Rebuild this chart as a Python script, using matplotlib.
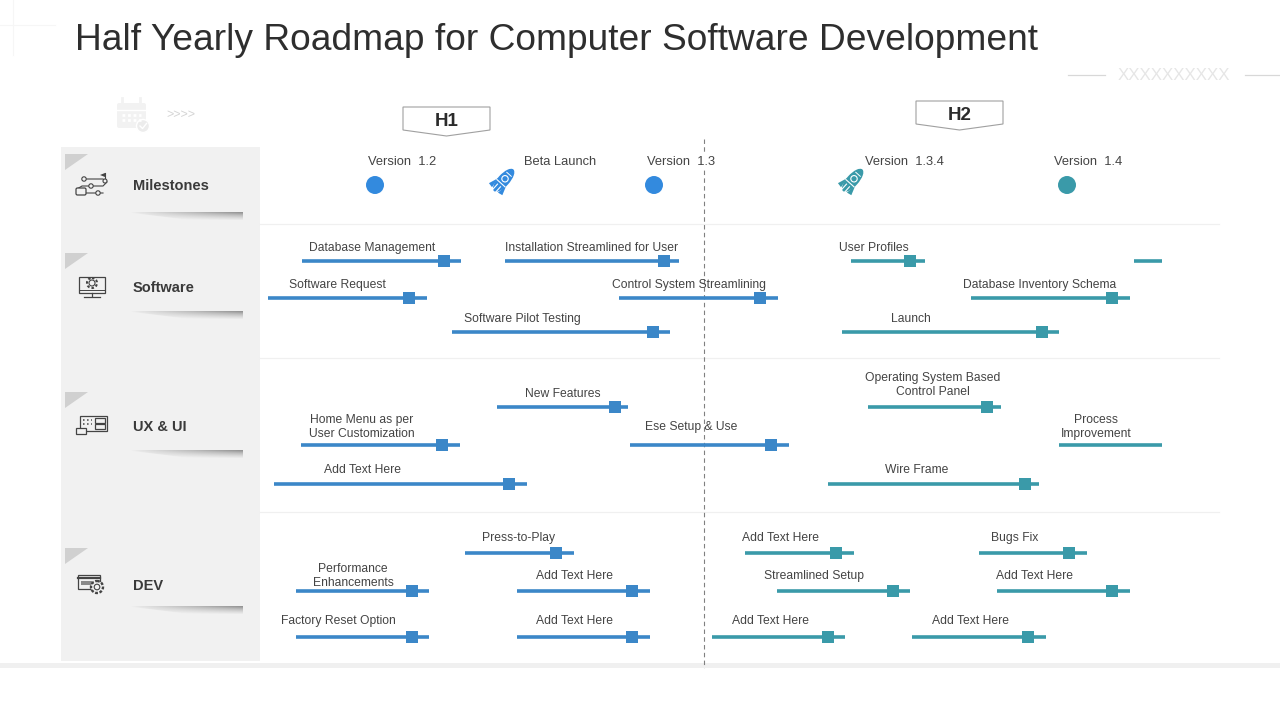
#!/usr/bin/env python3
# coding: utf-8
import numpy as np
import matplotlib as mpl
mpl.use('agg')
import matplotlib.pyplot as plt
from matplotlib.patches import Polygon, Rectangle, Circle, Ellipse, FancyBboxPatch
from matplotlib.transforms import Affine2D

plt.rcParams['font.family'] = ['Liberation Sans', 'DejaVu Sans']

BLUE = '#3b87c8'
BLUE_DOT = '#338ade'
TEAL = '#3a9aa9'
TEXT = '#444444'

title = 'Half Yearly Roadmap for Computer Software Development'
rows = ['Milestones', 'Software', 'UX & UI', 'DEV']

# milestones, x is the position on the timeline
ms_names = ['Version  1.2', 'Beta Launch', 'Version  1.3', 'Version  1.3.4', 'Version  1.4']
ms_x = [375, 503, 654, 852, 1067]
ms_text_x = [402, 560, 681, 904, 1088]
ms_kind = ['dot', 'rocket', 'dot', 'rocket', 'dot']
ms_color = [BLUE_DOT, BLUE_DOT, BLUE_DOT, TEAL, TEAL]

# H1 tasks
h1_names = ['Database Management', 'Installation Streamlined for User', 'Software Request',
            'Control System Streamlining', 'Software Pilot Testing', 'New Features',
            'Home Menu as per\nUser Customization', 'Ese Setup & Use', 'Add Text Here',
            'Press-to-Play', 'Performance\nEnhancements', 'Add Text Here',
            'Factory Reset Option', 'Add Text Here']
h1_start = [302, 505, 268, 619, 452, 497, 301, 630, 274, 465, 296, 517, 296, 517]
h1_end = [461, 679, 427, 778, 670, 628, 460, 789, 527, 574, 429, 650, 429, 650]
h1_mark = [444, 664, 409, 760, 653, 615, 442, 771, 509, 556, 412, 632, 412, 632]
h1_lane = [261, 261, 298, 298, 332, 407, 445, 445, 484, 553, 591, 591, 637, 637]
h1_text_x = [372, 592, 337, 689, 522, 563, 362, 691, 362, 519, 353, 575, 338, 575]
h1_text_y = [247, 247, 284, 284, 318, 393, 426, 426, 469, 537, 575, 575, 620, 620]

# H2 tasks, None = no marker on the bar
h2_names = ['User Profiles', '', 'Database Inventory Schema', 'Launch',
            'Operating System Based\nControl Panel', 'Process\nImprovement', 'Wire Frame',
            'Add Text Here', 'Bugs Fix', 'Streamlined Setup', 'Add Text Here',
            'Add Text Here', 'Add Text Here']
h2_start = [851, 1134, 971, 842, 868, 1059, 828, 745, 979, 777, 997, 712, 912]
h2_end = [925, 1162, 1130, 1059, 1001, 1162, 1039, 854, 1087, 910, 1130, 845, 1046]
h2_mark = [910, None, 1112, 1042, 987, None, 1025, 836, 1069, 893, 1112, 828, 1028]
h2_lane = [261, 261, 298, 332, 407, 445, 484, 553, 553, 591, 591, 637, 637]
h2_text_x = [874, 0, 1040, 911, 933, 1096, 917, 781, 1015, 814, 1034, 770, 971]
h2_text_y = [247, 0, 284, 318, 384, 426, 469, 537, 537, 575, 575, 620, 620]

row_text_y = [185, 287, 426, 585]
row_div_y = [224, 358, 512]


def draw_tasks(ax, names, start, end, mark, lane, text_x, text_y, color):
    for n, a, b, m, y, tx, ty in zip(names, start, end, mark, lane, text_x, text_y):
        ax.plot([a, b], [y, y], color=color, lw=2.6, solid_capstyle='butt', zorder=3)
        if m is not None:
            ax.add_patch(Rectangle((m - 6, y - 6), 12, 12, fc=color, ec='none', zorder=4))
        if n:
            # text comes out about 1px high when centred
            ax.text(tx, ty + 1, n, ha='center', va='center', fontsize=8.7, color=TEXT,
                    linespacing=1.25, zorder=5)


def rocket(ax, cx, cy, color):
    tr = Affine2D().rotate_deg_around(cx, cy, 42) + ax.transData
    ax.add_patch(Ellipse((cx, cy - 1), 12, 29, fc=color, ec='none', transform=tr, zorder=4))
    ax.add_patch(Polygon([(cx - 9, cy + 11), (cx - 5.5, cy + 1), (cx - 4, cy + 12)], fc=color, ec='none', transform=tr, zorder=4))
    ax.add_patch(Polygon([(cx + 9, cy + 11), (cx + 5.5, cy + 1), (cx + 4, cy + 12)], fc=color, ec='none', transform=tr, zorder=4))
    ax.add_patch(Circle((cx, cy - 3), 3.2, fc=color, ec='white', lw=0.8, transform=tr, zorder=5))
    ax.plot([cx - 5.5, cx + 5.5], [cy + 3, cy + 3], color='white', lw=0.8, transform=tr, zorder=5)
    ax.plot([cx - 3, cx + 3], [cy - 9, cy - 9], color='white', lw=0.7, transform=tr, zorder=5)
    ax.plot([cx - 2, cx - 2], [cy + 6, cy + 14], color='white', lw=0.8, transform=tr, zorder=5)
    ax.plot([cx + 2, cx + 2], [cy + 6, cy + 14], color='white', lw=0.8, transform=tr, zorder=5)


def h_tag(ax, x0, x1, top, text):
    pts = [(x0, top), (x1, top), (x1, top + 23), ((x0 + x1) / 2, top + 29), (x0, top + 23)]
    ax.add_patch(Polygon(pts, closed=True, fc='white', ec='#a0a0a0', lw=0.8, zorder=3))
    ax.text((x0 + x1) / 2, top + 15, text, ha='center', va='center', fontsize=13.5, fontweight='bold', color='#2b2b2b', zorder=4)


def shadow(ax, y):
    # grey wedge under each row name, fades to the left and towards the bottom
    across = np.linspace(0, 1, 200) ** 0.6
    down = np.linspace(1, 0, 40)[:, None]
    shade = down * across[None, :]
    im = ax.imshow(shade, extent=(125, 243, y + 10, y), cmap='Greys', vmin=-0.1, vmax=2.0, aspect='auto', zorder=2)
    clip = Polygon([(125, y), (243, y), (243, y + 9), (190, y + 8)], closed=True, transform=ax.transData)
    im.set_clip_path(clip)


def icon(ax, i, y):
    c = '#444444'
    if i == 0:
        ax.plot([83, 103, 107, 103, 82, 77, 82, 103], [y - 6, y - 6, y - 3, y + 1, y + 1, y + 4, y + 8, y + 8], color=c, lw=0.8, zorder=3)
        ax.add_patch(FancyBboxPatch((76, y + 3), 10, 7, boxstyle='round,pad=0,rounding_size=1.5', fc='#f1f1f1', ec=c, lw=0.9, zorder=4))
        for px, py in [(84, y - 6), (91, y + 1), (98, y + 8)]:
            ax.add_patch(Circle((px, py), 2.2, fc='#f1f1f1', ec=c, lw=0.8, zorder=4))
        ax.plot([105, 105], [y - 12, y - 5], color=c, lw=0.8, zorder=3)
        ax.add_patch(Polygon([(105, y - 12), (100, y - 10), (105, y - 8)], fc=c, ec='none', zorder=4))
        ax.add_patch(Circle((105, y - 4), 2, fc='#f1f1f1', ec=c, lw=0.8, zorder=4))
    elif i == 1:
        ax.add_patch(Rectangle((79, y - 10), 26, 16, fc='none', ec=c, lw=0.9, zorder=3))
        ax.plot([79, 105], [y + 3, y + 3], color=c, lw=0.7, zorder=3)
        ax.add_patch(Circle((92, y - 4), 3, fc='none', ec=c, lw=0.8, zorder=3))
        ax.add_patch(Circle((92, y - 4), 5, fc='none', ec=c, lw=1.5, ls=(0, (1.2, 1)), zorder=3))
        ax.plot([92, 92], [y + 6, y + 9], color=c, lw=0.9, zorder=3)
        ax.plot([84, 100], [y + 10, y + 10], color=c, lw=0.9, zorder=3)
    elif i == 2:
        ax.add_patch(Rectangle((80, y - 9), 27, 15, fc='none', ec=c, lw=0.9, zorder=3))
        ax.add_patch(Rectangle((95, y - 7), 10, 5, fc='none', ec=c, lw=0.9, zorder=3))
        ax.add_patch(Rectangle((95, y - 1), 10, 5, fc='none', ec=c, lw=0.9, zorder=3))
        ax.plot([83, 92], [y - 5, y - 5], color=c, lw=1.1, ls=':', zorder=3)
        ax.plot([83, 92], [y - 1, y - 1], color=c, lw=1.1, ls=':', zorder=3)
        ax.add_patch(Rectangle((76, y + 3), 10, 6, fc='#f1f1f1', ec=c, lw=0.9, zorder=4))
    else:
        ax.add_patch(Rectangle((78, y - 9), 22, 14, fc='none', ec=c, lw=0.9, zorder=3))
        ax.plot([78, 100], [y - 6, y - 6], color=c, lw=1.6, zorder=3)
        ax.add_patch(Rectangle((81, y - 3), 11, 4, fc=c, ec='none', alpha=0.6, zorder=3))
        ax.add_patch(Circle((97, y + 3), 6, fc='#f1f1f1', ec=c, lw=1.7, ls=(0, (1.2, 0.7)), zorder=4))
        ax.add_patch(Circle((97, y + 3), 2.8, fc='#f1f1f1', ec=c, lw=0.8, zorder=5))


def calendar(ax):
    pale = '#f2f2f2'
    ax.add_patch(FancyBboxPatch((117, 103), 29, 25, boxstyle='round,pad=0,rounding_size=2', fc=pale, ec='none'))
    ax.plot([122, 122], [98, 105], color=pale, lw=2)
    ax.plot([140, 140], [98, 105], color=pale, lw=2)
    ax.plot([117, 146], [110, 110], color='white', lw=1)
    for yy in [115, 120]:
        ax.plot([122, 141], [yy, yy], color='white', lw=2, ls=(0, (1, 1)))
    ax.add_patch(Circle((143, 126), 6.5, fc='#ececec', ec='white', lw=1))
    ax.plot([140, 142.5, 146.5], [126, 128.5, 123.5], color='white', lw=1)


def graph():
    fig = plt.figure(figsize=(12.8, 7.2), dpi=100)
    ax = fig.add_axes([0, 0, 1, 1])
    ax.set_xlim(0, 1280)
    ax.set_ylim(720, 0)
    ax.axis('off')

    ax.text(75, 41, title, ha='left', va='center', fontsize=26.7, color='#2e2e2e')

    # corner decoration and top right line
    ax.plot([13, 13], [0, 55], color='#f6f6f6', lw=0.8)
    ax.plot([0, 55], [25, 25], color='#f6f6f6', lw=0.8)
    ax.plot([1068, 1105], [75, 75], color='#d8d8d8', lw=0.9)
    ax.plot([1245, 1280], [75, 75], color='#d8d8d8', lw=0.9)
    ax.text(1174, 75, 'XXXXXXXXXX', ha='center', va='center', fontsize=12.2, color='#e6e6e6')

    calendar(ax)
    ax.text(181, 115, '>>>>', ha='center', va='center', fontsize=9, color='#d4d4d4')

    # left panel, bottom band and dividers
    ax.add_patch(Rectangle((61, 147), 199, 514, fc='#f1f1f1', ec='none', zorder=1))
    ax.add_patch(Rectangle((0, 663), 1280, 5, fc='#f0f0f0', ec='none', zorder=1))
    for y in row_div_y:
        ax.plot([260, 1219], [y, y], color='#f0f0f0', lw=0.9, zorder=1)

    corner_y = [154, 253, 392, 548]
    shadow_y = [212, 311, 450, 606]
    icon_y = [185, 287, 425, 584]
    for i, name in enumerate(rows):
        ax.text(133, row_text_y[i] + 1, name, ha='left', va='center', fontsize=10.5, fontweight='bold', color='#3a3a3a', zorder=3)
        cy = corner_y[i]
        ax.add_patch(Polygon([(65, cy), (88, cy), (65, cy + 16)], fc='#d0d0d0', ec='none', zorder=2))
        shadow(ax, shadow_y[i])
        icon(ax, i, icon_y[i])

    ax.set_xlim(0, 1280)
    ax.set_ylim(720, 0)

    h_tag(ax, 403, 490, 107, 'H1')
    h_tag(ax, 916, 1003, 101, 'H2')

    # half year marker
    ax.plot([704, 704], [139, 668], color='#808080', lw=0.8, ls=(0, (4, 3)), zorder=2)

    for name, x, tx, kind, c in zip(ms_names, ms_x, ms_text_x, ms_kind, ms_color):
        ax.text(tx, 162, name, ha='center', va='center', fontsize=9.3, color=TEXT, zorder=5,
                bbox=dict(fc='white', ec='none', pad=1.0))
        if kind == 'dot':
            ax.add_patch(Circle((x, 185), 9, fc=c, ec='none', zorder=4))
        else:
            rocket(ax, x, 181, c)

    draw_tasks(ax, h1_names, h1_start, h1_end, h1_mark, h1_lane, h1_text_x, h1_text_y, BLUE)
    draw_tasks(ax, h2_names, h2_start, h2_end, h2_mark, h2_lane, h2_text_x, h2_text_y, TEAL)

    fig.savefig('out.png', dpi=100)


if __name__ == '__main__':
    graph()
